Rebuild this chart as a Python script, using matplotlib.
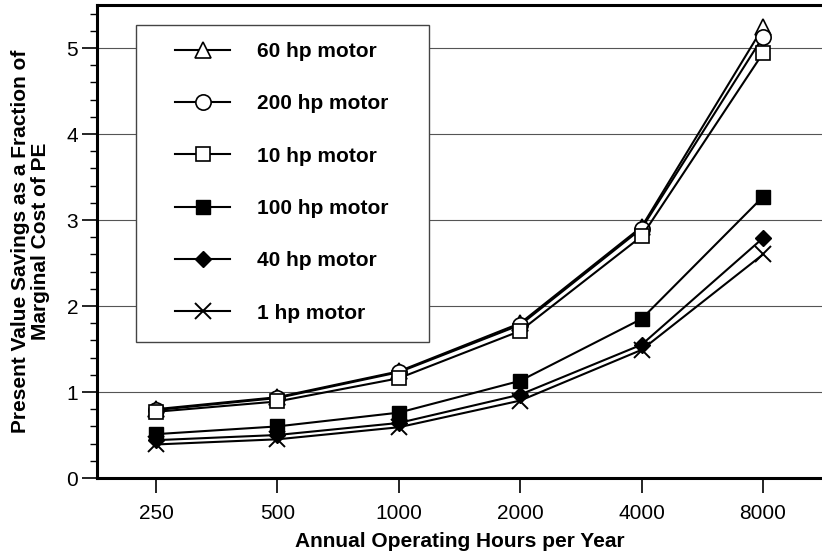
import matplotlib
matplotlib.use("Agg")
import matplotlib.pyplot as plt
from matplotlib.patches import Rectangle
from matplotlib.ticker import FixedLocator, MultipleLocator, NullFormatter

plt.rcParams["font.family"] = ["Liberation Sans", "DejaVu Sans"]

# annual operating hours (x categories, log-spaced)
hours = [250, 500, 1000, 2000, 4000, 8000]

# present value savings / marginal cost of PE
hp60 = [0.80, 0.94, 1.24, 1.80, 2.92, 5.24]
hp200 = [0.79, 0.93, 1.23, 1.78, 2.90, 5.13]
hp10 = [0.77, 0.89, 1.16, 1.71, 2.81, 4.94]
hp100 = [0.51, 0.60, 0.76, 1.13, 1.85, 3.27]
hp40 = [0.44, 0.50, 0.64, 0.97, 1.55, 2.79]
hp1 = [0.39, 0.45, 0.59, 0.90, 1.49, 2.60]

labels = ["60 hp motor", "200 hp motor", "10 hp motor",
          "100 hp motor", "40 hp motor", "1 hp motor"]

FS = 15
fig = plt.figure(figsize=(8.22, 5.54), dpi=100)
ax = fig.add_axes([97 / 822, 1 - 478 / 554, 725 / 822, 473 / 554])

LW = 1.5
ax.plot(hours, hp60, color="black", lw=LW, marker="^", ms=11,
        mfc="white", mec="black", mew=1.2, label=labels[0], zorder=3)
ax.plot(hours, hp200, color="black", lw=LW, marker="o", ms=11,
        mfc="white", mec="black", mew=1.2, label=labels[1], zorder=3)
ax.plot(hours, hp10, color="black", lw=LW, marker="s", ms=10,
        mfc="white", mec="black", mew=1.2, label=labels[2], zorder=3)
ax.plot(hours, hp100, color="black", lw=LW, marker="s", ms=10,
        mfc="black", mec="black", label=labels[3], zorder=3)
ax.plot(hours, hp40, color="black", lw=LW, marker="D", ms=8,
        mfc="black", mec="black", label=labels[4], zorder=3)
ax.plot(hours, hp1, color="black", lw=LW, marker="x", ms=12,
        mew=1.4, label=labels[5], zorder=3)

ax.set_xscale("log", base=2)
ax.set_xlim(250 * 2 ** -0.486, 8000 * 2 ** 0.486)
ax.xaxis.set_major_locator(FixedLocator(hours))
ax.xaxis.set_minor_locator(FixedLocator([]))
ax.set_xticks(hours)
ax.set_xticklabels([str(h) for h in hours])

ax.set_ylim(0, 5.5)
ax.yaxis.set_major_locator(MultipleLocator(1))
ax.yaxis.set_minor_locator(MultipleLocator(0.2))
ax.yaxis.set_minor_formatter(NullFormatter())

ax.grid(axis="y", which="major", color="#555555", lw=0.8, zorder=0)
ax.set_axisbelow(True)

for side in ["left", "bottom", "top"]:
    ax.spines[side].set_linewidth(2.2)
ax.spines["right"].set_visible(False)

ax.tick_params(axis="both", which="major", direction="out", length=11,
               width=1.2, labelsize=FS)
ax.tick_params(axis="x", which="major", pad=8)
ax.tick_params(axis="y", which="major", pad=2.5)
ax.tick_params(axis="y", which="minor", direction="out", length=5, width=1.0)

ax.set_xlabel("Annual Operating Hours per Year", fontsize=FS,
              fontweight="bold", labelpad=6)
ax.set_ylabel("Present Value Savings as a Fraction of\nMarginal Cost of PE",
              fontsize=FS, fontweight="bold", linespacing=1.05)
ax.yaxis.set_label_coords(-0.065, 0.5)

# legend frame drawn separately so the padding can be uneven
ax.add_patch(Rectangle((0.054, 0.288), 0.404, 0.67, transform=ax.transAxes,
                       facecolor="white", edgecolor="#444444", lw=1.0,
                       zorder=4))
leg = ax.legend(loc="upper left", bbox_to_anchor=(0.1076, 0.922),
                prop={"weight": "bold", "size": FS},
                handlelength=2.64, handletextpad=1.3, labelspacing=1.6,
                borderpad=0, borderaxespad=0, frameon=False)
leg.set_zorder(5)

fig.savefig("out.png", dpi=100)
